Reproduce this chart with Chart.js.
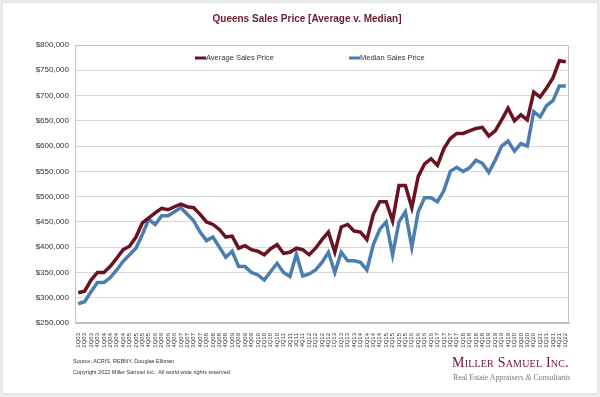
<!DOCTYPE html>
<html>
<head>
<meta charset="utf-8">
<script src="https://cdn.jsdelivr.net/npm/chart.js@4.4.1/dist/chart.umd.min.js"></script>
<style>
    html, body { margin: 0; padding: 0; }
    body { width: 600px; height: 397px; background: #ececec; position: relative; overflow: hidden; font-family: "Liberation Sans", Arial, sans-serif; }
    .card { position: absolute; left: 3px; top: 3px; width: 594px; height: 390px; background: #fff; box-shadow: 0 0 2px rgba(0,0,0,0.12); }
    #chart { position: absolute; left: 0; top: 0; }
    .title { position: absolute; left: 0; width: 614px; top: 13px; text-align: center; font-weight: bold; font-size: 10px; color: #6b1a2a; }
    .note { position: absolute; left: 73px; font-size: 5.5px; color: #333; white-space: nowrap; }
    .logo { position: absolute; left: 452px; top: 355px; font-family: "Liberation Serif", "DejaVu Serif", serif; color: #6b1a2a; font-size: 14px; font-variant: small-caps; letter-spacing: 0.2px; white-space: nowrap; }
    .tag { position: absolute; left: 453px; top: 373px; font-family: "Liberation Serif", "DejaVu Serif", serif; color: #777; font-size: 7.8px; white-space: nowrap; }
</style>
</head>
<body>
<div class="card"></div>
<canvas id="chart" width="600" height="397"></canvas>
<div class="title">Queens Sales Price [Average v. Median]</div>
<div class="note" style="top:358px">Source: ACRIS, REBNY, Douglas Elliman</div>
<div class="note" style="top:369px">Copyright 2022 Miller Samuel Inc.&nbsp; All world wide rights reserved.</div>
<div class="logo">Miller Samuel Inc.</div>
<div class="tag">Real Estate Appraisers <i>&amp;</i> Consultants</div>
<script>
// Quarters 1Q03 .. 1Q22
const quarters = [];
for (let y = 3; y <= 22; y++) {
    for (let q = 1; q <= 4; q++) {
        if (y === 22 && q > 1) break;
        quarters.push(q + 'Q' + String(y).padStart(2, '0'));
    }
}

const averagePrice = [
    310000, 313000, 335000, 350000, 350000, 362000, 378000, 395000,
    402000, 420000, 448000, 458000, 468000, 477000, 474000, 480000,
    485000, 480000, 478000, 465000, 450000, 445000, 435000, 420000,
    422000, 398000, 403000, 395000, 392000, 385000, 397000, 405000,
    388000, 390000, 398000, 395000, 385000, 398000, 415000, 430000,
    390000, 440000, 445000, 432000, 430000, 415000, 465000, 490000,
    490000, 452000, 522000, 522000, 478000, 540000, 565000, 575000,
    562000, 595000, 615000, 625000, 625000, 630000, 635000, 637000,
    620000, 630000, 652000, 675000, 650000, 662000, 652000, 707000,
    697000, 715000, 735000, 769000, 767000
];

const medianPrice = [
    288000, 292000, 312000, 330000, 330000, 340000, 355000, 372000,
    385000, 398000, 425000, 455000, 445000, 462000, 462000, 470000,
    478000, 465000, 452000, 430000, 413000, 420000, 400000, 380000,
    392000, 362000, 362000, 350000, 345000, 335000, 352000, 368000,
    350000, 342000, 386000, 343000, 347000, 355000, 370000, 390000,
    350000, 390000, 373000, 373000, 370000, 355000, 405000, 435000,
    450000, 385000, 450000, 470000, 400000, 470000, 498000, 498000,
    490000, 512000, 550000, 558000, 550000, 557000, 572000, 566000,
    548000, 572000, 600000, 610000, 590000, 605000, 600000, 668000,
    658000, 680000, 690000, 719000, 719000
];

const avgColor = '#6a1222';
const medColor = '#4a7eb0';

// legend drawn inside the plot, like the original
const innerLegend = {
    id: 'innerLegend',
    afterDraw(chart) {
        const { ctx, chartArea } = chart;
        const spots = [chartArea.left + 120, chartArea.left + 274];
        ctx.save();
        ctx.font = '7.5px "Liberation Sans", Arial, sans-serif';
        ctx.textBaseline = 'middle';
        chart.data.datasets.forEach((ds, i) => {
            const x = spots[i], y = chartArea.top + 13;
            ctx.strokeStyle = ds.borderColor;
            ctx.lineWidth = 3;
            ctx.beginPath();
            ctx.moveTo(x, y);
            ctx.lineTo(x + 11, y);
            ctx.stroke();
            ctx.fillStyle = '#333';
            ctx.fillText(ds.label, x + 11, y);
        });
        ctx.restore();
    }
};

// grey frame around the plot area
const plotFrame = {
    id: 'plotFrame',
    beforeDatasetsDraw(chart) {
        const { ctx, chartArea } = chart;
        ctx.save();
        ctx.strokeStyle = '#c4c4c4';
        ctx.lineWidth = 1;
        ctx.strokeRect(chartArea.left + 0.5, chartArea.top + 0.5, chartArea.width - 1, chartArea.height - 1);
        ctx.restore();
    }
};

Chart.defaults.font.family = '"Liberation Sans", Arial, sans-serif';
Chart.defaults.color = '#333';

new Chart(document.getElementById('chart').getContext('2d'), {
    type: 'line',
    data: {
        labels: quarters,
        datasets: [
            {
                label: 'Average Sales Price',
                data: averagePrice,
                borderColor: avgColor,
                borderWidth: 3.5,
                pointRadius: 0,
                tension: 0,
                fill: false
            },
            {
                label: 'Median Sales Price',
                data: medianPrice,
                borderColor: medColor,
                borderWidth: 3.5,
                pointRadius: 0,
                tension: 0,
                fill: false
            }
        ]
    },
    options: {
        responsive: false,
        animation: false,
        layout: { padding: { left: 0, top: 45, right: 31, bottom: 44 } },
        plugins: {
            legend: { display: false },
            tooltip: { enabled: false }
        },
        scales: {
            x: {
                offset: true,
                grid: { display: false },
                border: { color: '#bdbdbd' },
                ticks: {
                    autoSkip: false,
                    minRotation: 90,
                    maxRotation: 90,
                    padding: 2,
                    font: { size: 6 }
                },
                afterFit(scale) { scale.height = 30; }
            },
            y: {
                min: 250000,
                max: 800000,
                grid: { color: '#d9d9d9', drawTicks: false },
                border: { color: '#bdbdbd' },
                ticks: {
                    stepSize: 50000,
                    padding: 6,
                    font: { size: 8 },
                    callback: v => '$' + v.toLocaleString('en-US')
                },
                afterFit(scale) { scale.width = 75; }
            }
        }
    },
    plugins: [plotFrame, innerLegend]
});
</script>
</body>
</html>
